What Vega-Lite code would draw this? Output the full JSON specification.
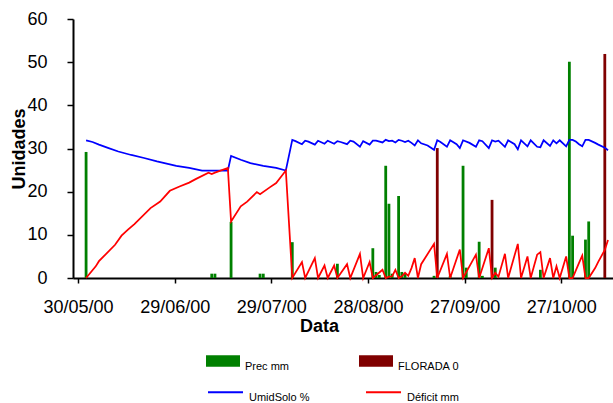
{
  "$schema": "https://vega.github.io/schema/vega-lite/v6.json",
  "width": 540,
  "height": 259,
  "autosize": {"type": "none"},
  "padding": {"left": 73, "top": 19, "right": 0, "bottom": 125},
  "background": "white",
  "config": {"view": {"stroke": null}, "font": "Liberation Sans"},
  "datasets": {
    "bars": [
      {"date": "2000-06-01", "serie": "Prec mm", "value": 29.2},
      {"date": "2000-07-10", "serie": "Prec mm", "value": 1.0},
      {"date": "2000-07-11", "serie": "Prec mm", "value": 1.0},
      {"date": "2000-07-16", "serie": "Prec mm", "value": 13.0},
      {"date": "2000-07-25", "serie": "Prec mm", "value": 1.0},
      {"date": "2000-07-26", "serie": "Prec mm", "value": 1.0},
      {"date": "2000-08-04", "serie": "Prec mm", "value": 8.3},
      {"date": "2000-08-18", "serie": "Prec mm", "value": 3.3},
      {"date": "2000-08-29", "serie": "Prec mm", "value": 6.9},
      {"date": "2000-08-30", "serie": "Prec mm", "value": 1.4},
      {"date": "2000-08-31", "serie": "Prec mm", "value": 0.7},
      {"date": "2000-09-02", "serie": "Prec mm", "value": 26.0},
      {"date": "2000-09-03", "serie": "Prec mm", "value": 17.2},
      {"date": "2000-09-04", "serie": "Prec mm", "value": 1.0},
      {"date": "2000-09-06", "serie": "Prec mm", "value": 19.0},
      {"date": "2000-09-07", "serie": "Prec mm", "value": 1.4},
      {"date": "2000-09-08", "serie": "Prec mm", "value": 1.0},
      {"date": "2000-09-17", "serie": "Prec mm", "value": 0.5},
      {"date": "2000-09-22", "serie": "Prec mm", "value": 0.5},
      {"date": "2000-09-26", "serie": "Prec mm", "value": 26.0},
      {"date": "2000-09-27", "serie": "Prec mm", "value": 2.4},
      {"date": "2000-10-01", "serie": "Prec mm", "value": 8.4},
      {"date": "2000-10-02", "serie": "Prec mm", "value": 0.5},
      {"date": "2000-10-06", "serie": "Prec mm", "value": 2.4},
      {"date": "2000-10-20", "serie": "Prec mm", "value": 1.9},
      {"date": "2000-10-29", "serie": "Prec mm", "value": 50.1},
      {"date": "2000-10-30", "serie": "Prec mm", "value": 9.8},
      {"date": "2000-11-03", "serie": "Prec mm", "value": 8.9},
      {"date": "2000-11-04", "serie": "Prec mm", "value": 13.1},
      {"date": "2000-09-18", "serie": "FLORADA 0", "value": 30.1},
      {"date": "2000-10-05", "serie": "FLORADA 0", "value": 18.1},
      {"date": "2000-11-09", "serie": "FLORADA 0", "value": 51.9}
    ],
    "lines": [
      {"date": "2000-06-01", "serie": "UmidSolo %", "value": 31.9},
      {"date": "2000-06-03", "serie": "UmidSolo %", "value": 31.5},
      {"date": "2000-06-05", "serie": "UmidSolo %", "value": 30.9},
      {"date": "2000-06-08", "serie": "UmidSolo %", "value": 30.1},
      {"date": "2000-06-11", "serie": "UmidSolo %", "value": 29.3},
      {"date": "2000-06-15", "serie": "UmidSolo %", "value": 28.5},
      {"date": "2000-06-19", "serie": "UmidSolo %", "value": 27.8},
      {"date": "2000-06-23", "serie": "UmidSolo %", "value": 27.0},
      {"date": "2000-06-29", "serie": "UmidSolo %", "value": 26.0},
      {"date": "2000-07-03", "serie": "UmidSolo %", "value": 25.5},
      {"date": "2000-07-07", "serie": "UmidSolo %", "value": 24.9},
      {"date": "2000-07-15", "serie": "UmidSolo %", "value": 24.9},
      {"date": "2000-07-16", "serie": "UmidSolo %", "value": 28.3},
      {"date": "2000-07-19", "serie": "UmidSolo %", "value": 27.4},
      {"date": "2000-07-22", "serie": "UmidSolo %", "value": 26.6},
      {"date": "2000-07-26", "serie": "UmidSolo %", "value": 26.0},
      {"date": "2000-07-30", "serie": "UmidSolo %", "value": 25.5},
      {"date": "2000-08-02", "serie": "UmidSolo %", "value": 24.9},
      {"date": "2000-08-04", "serie": "UmidSolo %", "value": 32.0},
      {"date": "2000-08-05", "serie": "UmidSolo %", "value": 31.7},
      {"date": "2000-08-07", "serie": "UmidSolo %", "value": 31.0},
      {"date": "2000-08-08", "serie": "UmidSolo %", "value": 31.8},
      {"date": "2000-08-09", "serie": "UmidSolo %", "value": 31.6},
      {"date": "2000-08-11", "serie": "UmidSolo %", "value": 30.9},
      {"date": "2000-08-12", "serie": "UmidSolo %", "value": 31.8},
      {"date": "2000-08-14", "serie": "UmidSolo %", "value": 31.1},
      {"date": "2000-08-15", "serie": "UmidSolo %", "value": 31.8},
      {"date": "2000-08-17", "serie": "UmidSolo %", "value": 31.1},
      {"date": "2000-08-18", "serie": "UmidSolo %", "value": 31.7},
      {"date": "2000-08-19", "serie": "UmidSolo %", "value": 31.5},
      {"date": "2000-08-21", "serie": "UmidSolo %", "value": 31.0},
      {"date": "2000-08-22", "serie": "UmidSolo %", "value": 31.8},
      {"date": "2000-08-23", "serie": "UmidSolo %", "value": 31.6},
      {"date": "2000-08-25", "serie": "UmidSolo %", "value": 30.4},
      {"date": "2000-08-26", "serie": "UmidSolo %", "value": 31.7},
      {"date": "2000-08-28", "serie": "UmidSolo %", "value": 30.9},
      {"date": "2000-08-29", "serie": "UmidSolo %", "value": 31.8},
      {"date": "2000-08-30", "serie": "UmidSolo %", "value": 31.8},
      {"date": "2000-09-01", "serie": "UmidSolo %", "value": 31.4},
      {"date": "2000-09-02", "serie": "UmidSolo %", "value": 32.0},
      {"date": "2000-09-03", "serie": "UmidSolo %", "value": 31.7},
      {"date": "2000-09-04", "serie": "UmidSolo %", "value": 31.8},
      {"date": "2000-09-05", "serie": "UmidSolo %", "value": 31.4},
      {"date": "2000-09-06", "serie": "UmidSolo %", "value": 32.0},
      {"date": "2000-09-07", "serie": "UmidSolo %", "value": 31.8},
      {"date": "2000-09-08", "serie": "UmidSolo %", "value": 31.5},
      {"date": "2000-09-09", "serie": "UmidSolo %", "value": 31.8},
      {"date": "2000-09-10", "serie": "UmidSolo %", "value": 31.3},
      {"date": "2000-09-11", "serie": "UmidSolo %", "value": 30.7},
      {"date": "2000-09-12", "serie": "UmidSolo %", "value": 31.9},
      {"date": "2000-09-13", "serie": "UmidSolo %", "value": 31.2},
      {"date": "2000-09-15", "serie": "UmidSolo %", "value": 30.7},
      {"date": "2000-09-17", "serie": "UmidSolo %", "value": 29.7},
      {"date": "2000-09-18", "serie": "UmidSolo %", "value": 31.9},
      {"date": "2000-09-19", "serie": "UmidSolo %", "value": 31.5},
      {"date": "2000-09-21", "serie": "UmidSolo %", "value": 30.4},
      {"date": "2000-09-22", "serie": "UmidSolo %", "value": 31.9},
      {"date": "2000-09-24", "serie": "UmidSolo %", "value": 31.0},
      {"date": "2000-09-25", "serie": "UmidSolo %", "value": 30.1},
      {"date": "2000-09-26", "serie": "UmidSolo %", "value": 31.9},
      {"date": "2000-09-28", "serie": "UmidSolo %", "value": 31.3},
      {"date": "2000-09-30", "serie": "UmidSolo %", "value": 30.4},
      {"date": "2000-10-01", "serie": "UmidSolo %", "value": 31.9},
      {"date": "2000-10-02", "serie": "UmidSolo %", "value": 31.7},
      {"date": "2000-10-04", "serie": "UmidSolo %", "value": 30.1},
      {"date": "2000-10-05", "serie": "UmidSolo %", "value": 31.9},
      {"date": "2000-10-06", "serie": "UmidSolo %", "value": 31.6},
      {"date": "2000-10-07", "serie": "UmidSolo %", "value": 31.8},
      {"date": "2000-10-09", "serie": "UmidSolo %", "value": 30.4},
      {"date": "2000-10-10", "serie": "UmidSolo %", "value": 31.9},
      {"date": "2000-10-12", "serie": "UmidSolo %", "value": 31.0},
      {"date": "2000-10-13", "serie": "UmidSolo %", "value": 29.8},
      {"date": "2000-10-14", "serie": "UmidSolo %", "value": 31.9},
      {"date": "2000-10-16", "serie": "UmidSolo %", "value": 30.5},
      {"date": "2000-10-17", "serie": "UmidSolo %", "value": 31.9},
      {"date": "2000-10-19", "serie": "UmidSolo %", "value": 30.4},
      {"date": "2000-10-20", "serie": "UmidSolo %", "value": 30.3},
      {"date": "2000-10-21", "serie": "UmidSolo %", "value": 31.9},
      {"date": "2000-10-23", "serie": "UmidSolo %", "value": 30.6},
      {"date": "2000-10-24", "serie": "UmidSolo %", "value": 31.9},
      {"date": "2000-10-25", "serie": "UmidSolo %", "value": 31.2},
      {"date": "2000-10-26", "serie": "UmidSolo %", "value": 31.9},
      {"date": "2000-10-28", "serie": "UmidSolo %", "value": 30.5},
      {"date": "2000-10-29", "serie": "UmidSolo %", "value": 32.0},
      {"date": "2000-10-30", "serie": "UmidSolo %", "value": 32.0},
      {"date": "2000-10-31", "serie": "UmidSolo %", "value": 31.6},
      {"date": "2000-11-01", "serie": "UmidSolo %", "value": 31.0},
      {"date": "2000-11-02", "serie": "UmidSolo %", "value": 30.5},
      {"date": "2000-11-03", "serie": "UmidSolo %", "value": 32.0},
      {"date": "2000-11-04", "serie": "UmidSolo %", "value": 32.0},
      {"date": "2000-11-06", "serie": "UmidSolo %", "value": 31.3},
      {"date": "2000-11-07", "serie": "UmidSolo %", "value": 30.9},
      {"date": "2000-11-09", "serie": "UmidSolo %", "value": 30.2},
      {"date": "2000-11-10", "serie": "UmidSolo %", "value": 29.6},
      {"date": "2000-06-01", "serie": "Déficit mm", "value": 0},
      {"date": "2000-06-04", "serie": "Déficit mm", "value": 2.7},
      {"date": "2000-06-05", "serie": "Déficit mm", "value": 3.9},
      {"date": "2000-06-10", "serie": "Déficit mm", "value": 7.7},
      {"date": "2000-06-12", "serie": "Déficit mm", "value": 9.8},
      {"date": "2000-06-14", "serie": "Déficit mm", "value": 11.2},
      {"date": "2000-06-16", "serie": "Déficit mm", "value": 12.5},
      {"date": "2000-06-21", "serie": "Déficit mm", "value": 16.2},
      {"date": "2000-06-24", "serie": "Déficit mm", "value": 17.7},
      {"date": "2000-06-27", "serie": "Déficit mm", "value": 20.2},
      {"date": "2000-06-30", "serie": "Déficit mm", "value": 21.2},
      {"date": "2000-07-03", "serie": "Déficit mm", "value": 22.1},
      {"date": "2000-07-05", "serie": "Déficit mm", "value": 22.9},
      {"date": "2000-07-09", "serie": "Déficit mm", "value": 24.4},
      {"date": "2000-07-10", "serie": "Déficit mm", "value": 24.1},
      {"date": "2000-07-11", "serie": "Déficit mm", "value": 24.4},
      {"date": "2000-07-15", "serie": "Déficit mm", "value": 25.5},
      {"date": "2000-07-16", "serie": "Déficit mm", "value": 13.1},
      {"date": "2000-07-19", "serie": "Déficit mm", "value": 16.6},
      {"date": "2000-07-21", "serie": "Déficit mm", "value": 17.7},
      {"date": "2000-07-24", "serie": "Déficit mm", "value": 19.9},
      {"date": "2000-07-25", "serie": "Déficit mm", "value": 19.4},
      {"date": "2000-07-28", "serie": "Déficit mm", "value": 21.0},
      {"date": "2000-07-30", "serie": "Déficit mm", "value": 22.0},
      {"date": "2000-08-02", "serie": "Déficit mm", "value": 24.9},
      {"date": "2000-08-04", "serie": "Déficit mm", "value": 0},
      {"date": "2000-08-07", "serie": "Déficit mm", "value": 3.7},
      {"date": "2000-08-08", "serie": "Déficit mm", "value": 0},
      {"date": "2000-08-11", "serie": "Déficit mm", "value": 4.6},
      {"date": "2000-08-12", "serie": "Déficit mm", "value": 0},
      {"date": "2000-08-14", "serie": "Déficit mm", "value": 2.9},
      {"date": "2000-08-15", "serie": "Déficit mm", "value": 0},
      {"date": "2000-08-17", "serie": "Déficit mm", "value": 2.9},
      {"date": "2000-08-18", "serie": "Déficit mm", "value": 0},
      {"date": "2000-08-21", "serie": "Déficit mm", "value": 3.2},
      {"date": "2000-08-22", "serie": "Déficit mm", "value": 0},
      {"date": "2000-08-25", "serie": "Déficit mm", "value": 5.6},
      {"date": "2000-08-26", "serie": "Déficit mm", "value": 0},
      {"date": "2000-08-28", "serie": "Déficit mm", "value": 3.7},
      {"date": "2000-08-29", "serie": "Déficit mm", "value": 0},
      {"date": "2000-09-01", "serie": "Déficit mm", "value": 1.9},
      {"date": "2000-09-02", "serie": "Déficit mm", "value": 0},
      {"date": "2000-09-03", "serie": "Déficit mm", "value": 0.3},
      {"date": "2000-09-04", "serie": "Déficit mm", "value": 0.4},
      {"date": "2000-09-05", "serie": "Déficit mm", "value": 1.9},
      {"date": "2000-09-06", "serie": "Déficit mm", "value": 0},
      {"date": "2000-09-07", "serie": "Déficit mm", "value": 0.4},
      {"date": "2000-09-08", "serie": "Déficit mm", "value": 1.2},
      {"date": "2000-09-09", "serie": "Déficit mm", "value": 0.5},
      {"date": "2000-09-10", "serie": "Déficit mm", "value": 2.3},
      {"date": "2000-09-11", "serie": "Déficit mm", "value": 4.6},
      {"date": "2000-09-12", "serie": "Déficit mm", "value": 0},
      {"date": "2000-09-13", "serie": "Déficit mm", "value": 3.2},
      {"date": "2000-09-17", "serie": "Déficit mm", "value": 7.9},
      {"date": "2000-09-18", "serie": "Déficit mm", "value": 0},
      {"date": "2000-09-21", "serie": "Déficit mm", "value": 5.6},
      {"date": "2000-09-22", "serie": "Déficit mm", "value": 0},
      {"date": "2000-09-25", "serie": "Déficit mm", "value": 6.6},
      {"date": "2000-09-26", "serie": "Déficit mm", "value": 0},
      {"date": "2000-09-30", "serie": "Déficit mm", "value": 5.4},
      {"date": "2000-10-01", "serie": "Déficit mm", "value": 0},
      {"date": "2000-10-04", "serie": "Déficit mm", "value": 6.9},
      {"date": "2000-10-05", "serie": "Déficit mm", "value": 0},
      {"date": "2000-10-06", "serie": "Déficit mm", "value": 1.2},
      {"date": "2000-10-07", "serie": "Déficit mm", "value": 0.3},
      {"date": "2000-10-09", "serie": "Déficit mm", "value": 5.6},
      {"date": "2000-10-10", "serie": "Déficit mm", "value": 0},
      {"date": "2000-10-13", "serie": "Déficit mm", "value": 7.9},
      {"date": "2000-10-14", "serie": "Déficit mm", "value": 0},
      {"date": "2000-10-16", "serie": "Déficit mm", "value": 5.0},
      {"date": "2000-10-17", "serie": "Déficit mm", "value": 0},
      {"date": "2000-10-19", "serie": "Déficit mm", "value": 5.4},
      {"date": "2000-10-20", "serie": "Déficit mm", "value": 6.0},
      {"date": "2000-10-21", "serie": "Déficit mm", "value": 0},
      {"date": "2000-10-23", "serie": "Déficit mm", "value": 4.6},
      {"date": "2000-10-24", "serie": "Déficit mm", "value": 0},
      {"date": "2000-10-25", "serie": "Déficit mm", "value": 2.7},
      {"date": "2000-10-26", "serie": "Déficit mm", "value": 0},
      {"date": "2000-10-28", "serie": "Déficit mm", "value": 5.0},
      {"date": "2000-10-29", "serie": "Déficit mm", "value": 0},
      {"date": "2000-10-30", "serie": "Déficit mm", "value": 0},
      {"date": "2000-11-01", "serie": "Déficit mm", "value": 3.5},
      {"date": "2000-11-02", "serie": "Déficit mm", "value": 5.2},
      {"date": "2000-11-03", "serie": "Déficit mm", "value": 0},
      {"date": "2000-11-04", "serie": "Déficit mm", "value": 0},
      {"date": "2000-11-06", "serie": "Déficit mm", "value": 2.3},
      {"date": "2000-11-07", "serie": "Déficit mm", "value": 3.8},
      {"date": "2000-11-09", "serie": "Déficit mm", "value": 6.5},
      {"date": "2000-11-10", "serie": "Déficit mm", "value": 8.8}
    ]
  },
  "layer": [
    {
      "data": {"name": "bars"},
      "mark": {"type": "bar", "size": 2.8, "xOffset": 1.64},
      "encoding": {
        "x": {
          "field": "date", "type": "temporal",
          "scale": {"type": "utc", "nice": false, "domain": [
            {"year": 2000, "month": 5, "date": 30, "utc": true},
            {"year": 2000, "month": 11, "date": 10, "hours": 12, "utc": true}
          ]},
          "axis": {
            "values": [
              {"year": 2000, "month": 5, "date": 30, "utc": true},
              {"year": 2000, "month": 6, "date": 29, "utc": true},
              {"year": 2000, "month": 7, "date": 29, "utc": true},
              {"year": 2000, "month": 8, "date": 28, "utc": true},
              {"year": 2000, "month": 9, "date": 27, "utc": true},
              {"year": 2000, "month": 10, "date": 27, "utc": true}
            ],
            "labelExpr": "utcFormat(datum.value, '%d/%m/%y')",
            "labelFont": "Liberation Sans", "labelFontSize": 18, "labelColor": "black",
            "labelPadding": 15, "labelFlush": false, "labelOverlap": false,
            "tickSize": 5, "tickWidth": 1.5, "tickColor": "black",
            "domainColor": "black", "domainWidth": 2, "grid": false,
            "title": "Data", "titleFont": "Liberation Sans", "titleFontSize": 18, "titleFontWeight": "bold",
            "titleColor": "black", "titleX": 246, "titleY": 53, "titleBaseline": "alphabetic", "titleAlign": "center", "titleAnchor": null
          }
        },
        "y": {
          "field": "value", "type": "quantitative",
          "scale": {"domain": [0, 60], "nice": false},
          "axis": {
            "values": [0, 10, 20, 30, 40, 50, 60],
            "labelFont": "Liberation Sans", "labelFontSize": 18, "labelColor": "black",
            "labelPadding": 20, "tickSize": 6, "tickWidth": 1.5, "tickColor": "black",
            "domainColor": "black", "domainWidth": 2, "grid": false,
            "title": "Unidades", "titleFont": "Liberation Sans", "titleFontSize": 18, "titleFontWeight": "bold",
            "titleColor": "black", "titleX": -49, "titleY": 129.5, "titleAngle": -90,
            "titleBaseline": "alphabetic", "titleAlign": "center"
          }
        },
        "fill": {
          "field": "serie", "type": "nominal",
          "scale": {"domain": ["Prec mm", "FLORADA 0"], "range": ["#008000", "#800000"]},
          "legend": {
            "orient": "none", "legendX": 133, "legendY": 325, "direction": "horizontal", "columns": 2,
            "title": null, "padding": 0, "gridAlign": "all", "columnPadding": 52,
            "symbolType": "M-1,-0.344L1,-0.344L1,0.344L-1,0.344Z", "symbolSize": 1156,
            "symbolStrokeWidth": 0, "symbolOpacity": 1,
            "labelFont": "Liberation Sans", "labelFontSize": 11, "labelColor": "black",
            "labelOffset": 5, "labelBaseline": "top"
          }
        }
      }
    },
    {
      "data": {"name": "lines"},
      "mark": {"type": "line", "strokeWidth": 1.75, "xOffset": 1.64},
      "encoding": {
        "x": {"field": "date", "type": "temporal"},
        "y": {"field": "value", "type": "quantitative"},
        "stroke": {
          "field": "serie", "type": "nominal",
          "scale": {"domain": ["UmidSolo %", "Déficit mm"], "range": ["#0000ff", "#ff0000"]},
          "legend": {
            "orient": "none", "legendX": 134, "legendY": 354.5, "direction": "horizontal", "columns": 2,
            "title": null, "padding": 0, "gridAlign": "all", "columnPadding": 52,
            "symbolType": "stroke", "symbolSize": 1225, "symbolStrokeWidth": 2,
            "labelFont": "Liberation Sans", "labelFontSize": 11, "labelColor": "black",
            "labelOffset": 5, "labelBaseline": "top"
          }
        }
      }
    }
  ]
}
